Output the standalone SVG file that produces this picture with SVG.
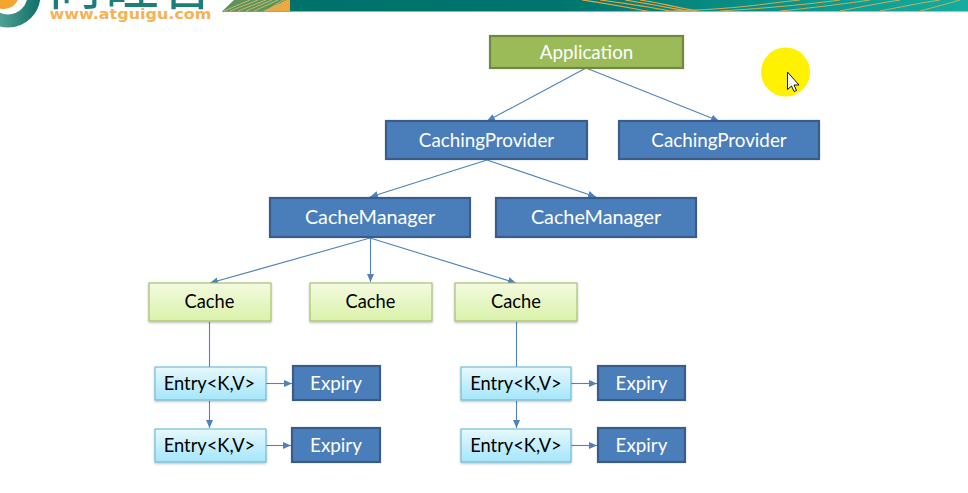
<svg xmlns="http://www.w3.org/2000/svg" width="968" height="493" viewBox="0 0 968 493">
<style>
text{font-family:"Lato","Open Sans","Noto Sans",sans-serif;font-size:18.8px;text-anchor:middle}
.dark{fill:#4a7ebb;stroke:#385d8a;stroke-width:2.2}
.app{fill:#9bbb59;stroke:#71893f;stroke-width:2.2}
.cache{fill:url(#cg);stroke:#a3bd6a;stroke-width:1.1;filter:url(#sh)}
.entry{fill:url(#eg);stroke:#5cb6d0;stroke-width:1;filter:url(#sh)}
.lt{fill:#fff}
.mgr{font-size:19.8px}
.dk{fill:#000;font-size:18.3px}
.c line{stroke:#4f81bd;stroke-width:1.1}
.a{marker-end:url(#ah)}
</style>
<defs>
<linearGradient id="cg" x1="0" y1="0" x2="0" y2="1"><stop offset="0" stop-color="#f4fadf"/><stop offset="1" stop-color="#d9f2aa"/></linearGradient>
<linearGradient id="eg" x1="0" y1="0" x2="0" y2="1"><stop offset="0" stop-color="#e6f8fd"/><stop offset="1" stop-color="#a4e6fb"/></linearGradient>
<linearGradient id="hd" x1="0" y1="0" x2="1" y2="0"><stop offset="0" stop-color="#00716a"/><stop offset="0.45" stop-color="#00756d"/><stop offset="1" stop-color="#14ada0"/></linearGradient>
<linearGradient id="ring" x1="0" y1="0" x2="1" y2="0"><stop offset="0" stop-color="#6fb5a8"/><stop offset="1" stop-color="#17776f"/></linearGradient>
<filter id="sh" x="-5%" y="-10%" width="110%" height="125%"><feDropShadow dx="0" dy="1.2" stdDeviation="0.9" flood-color="#000" flood-opacity="0.28"/></filter>
<marker id="ah" viewBox="0 0 8 8" refX="8" refY="4" markerWidth="8" markerHeight="8" markerUnits="userSpaceOnUse" orient="auto"><path d="M0 0.5L8 4L0 7.5z" fill="#4f81bd"/></marker>
<clipPath id="top"><rect x="0" y="0" width="222" height="10"/></clipPath>
</defs>
<g id="banner">
<rect x="222" y="0" width="746" height="11.500" fill="url(#hd)"/>
<path d="M222 11.500L234 0H290V11.500z" fill="#5c9460"/>
<path d="M262 11.500L287 0H290V11.500z" fill="#f2a73c"/>
<path d="M224 11L250 0M230 11L258 0M238 11L266 0M246 11L272 0M254 11L278 0M266 11L283 0M274 11L285 0M282 11L288 0" stroke="#c9b765" stroke-width="1" fill="none"/>
<path d="M222 11.500L234 0H222z" fill="#fff"/>
<path d="M582 0C610 4 630 8 650 11.500M600 0C630 4 650 7 672 11.500M625 0C650 4 670 8 690 11.500M640 0C665 4 680 8 700 11.500" stroke="#eaa53d" stroke-width="1.2" fill="none"/>
<path d="M670 11C740 9 760 4 800 0M720 11C770 8 810 4 840 0M780 11C820 7 850 3 870 0M840 11C860 7 880 3 900 0M880 11C900 7 920 3 940 0M920 11C935 7 950 3 960 0" stroke="#c8ae5c" stroke-width="1" fill="none"/>
</g>
<g id="logo">
<circle cx="8" cy="-5" r="26" fill="none" stroke="url(#ring)" stroke-width="13"/>
<circle cx="4" cy="-6" r="15" fill="#f4a52f"/>
<text x="131" y="4" clip-path="url(#top)" style="font-family:'Noto Sans CJK SC',sans-serif;font-size:56px;fill:#1b7f78">尚硅谷</text>
<text x="130.500" y="19" textLength="162" lengthAdjust="spacingAndGlyphs" style="font-family:'DejaVu Sans',sans-serif;font-size:13.500px;font-weight:700;fill:#f7b255">www.atguigu.com</text>
</g>
<g id="highlight">
<circle cx="785.500" cy="72" r="24.500" fill="#fff200"/>
<path d="M787.500 72V89.500L791.500 86L794 91.500L796.500 90.500L794 85H799z" fill="#fff" stroke="#000" stroke-width="0.9"/>
</g>
<g class="c" id="connectors">
<line class="a" x1="586" y1="68" x2="487" y2="121"/>
<line class="a" x1="586" y1="68" x2="719" y2="121"/>
<line class="a" x1="487" y1="160" x2="370" y2="197"/>
<line class="a" x1="487" y1="160" x2="596" y2="197"/>
<line class="a" x1="370" y1="238" x2="210" y2="283"/>
<line class="a" x1="370.500" y1="238" x2="370.500" y2="282"/>
<line class="a" x1="370" y1="238" x2="516" y2="283"/>
<line x1="209.500" y1="322" x2="209.500" y2="367"/>
<line class="a" x1="209.500" y1="401" x2="209.500" y2="428"/>
<line class="a" x1="266" y1="383.500" x2="292" y2="383.500"/>
<line class="a" x1="266" y1="445.500" x2="291" y2="445.500"/>
<line x1="516.500" y1="322" x2="516.500" y2="367"/>
<line class="a" x1="516.500" y1="401" x2="516.500" y2="428"/>
<line class="a" x1="570" y1="383.500" x2="597" y2="383.500"/>
<line class="a" x1="570" y1="445.500" x2="597" y2="445.500"/>
</g>
<g id="application"><rect class="app" x="490" y="36" width="193" height="32"/><text class="lt" x="586.500" y="58.500">Application</text></g>
<g id="provider1"><rect class="dark" x="386" y="121" width="201" height="38"/><text class="lt" x="486.500" y="146.500">CachingProvider</text></g>
<g id="provider2"><rect class="dark" x="619" y="121" width="200" height="38"/><text class="lt" x="719" y="146.500">CachingProvider</text></g>
<g id="manager1"><rect class="dark" x="270" y="198" width="200" height="39"/><text class="lt mgr" x="370" y="223.500">CacheManager</text></g>
<g id="manager2"><rect class="dark" x="496" y="198" width="200" height="39"/><text class="lt mgr" x="596" y="223.500">CacheManager</text></g>
<g id="cache1"><rect class="cache" x="149" y="283" width="122" height="38"/><text class="dk" x="209.500" y="307.500">Cache</text></g>
<g id="cache2"><rect class="cache" x="310" y="283" width="122" height="38"/><text class="dk" x="370.500" y="307.500">Cache</text></g>
<g id="cache3"><rect class="cache" x="455" y="283" width="122" height="38"/><text class="dk" x="516" y="307.500">Cache</text></g>
<g id="entry1"><rect class="entry" x="155" y="367" width="111" height="33"/><text class="dk" x="209.500" y="390">Entry&lt;K,V&gt;</text></g>
<g id="entry2"><rect class="entry" x="155" y="429" width="111" height="33"/><text class="dk" x="209.500" y="452">Entry&lt;K,V&gt;</text></g>
<g id="entry3"><rect class="entry" x="461" y="367" width="110" height="33"/><text class="dk" x="516" y="390">Entry&lt;K,V&gt;</text></g>
<g id="entry4"><rect class="entry" x="461" y="429" width="110" height="33"/><text class="dk" x="516" y="452">Entry&lt;K,V&gt;</text></g>
<g id="expiry1"><rect class="dark" x="293" y="366" width="87" height="34"/><text class="lt" x="336" y="390">Expiry</text></g>
<g id="expiry2"><rect class="dark" x="292" y="428" width="88" height="34"/><text class="lt" x="336" y="452">Expiry</text></g>
<g id="expiry3"><rect class="dark" x="598" y="366" width="87" height="34"/><text class="lt" x="641.500" y="390">Expiry</text></g>
<g id="expiry4"><rect class="dark" x="598" y="428" width="87" height="34"/><text class="lt" x="641.500" y="452">Expiry</text></g>
</svg>
